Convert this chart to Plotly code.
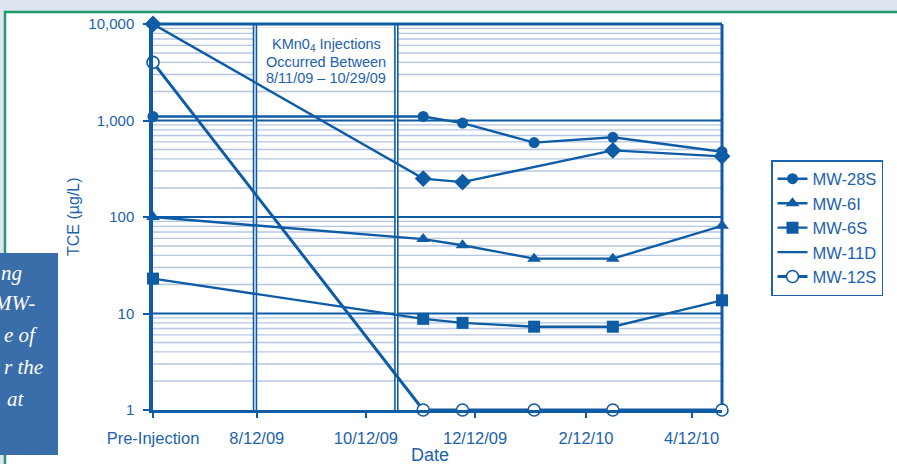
import plotly.graph_objects as go

# ---------------- data ----------------
pre_date = "2009-06-15"          # position used for the "Pre-Injection" sample
sample_dates = ["2009-11-13", "2009-12-05", "2010-01-14", "2010-02-27", "2010-04-29"]

mw28s = [1100, 1100, 940, 590, 670, 475]
mw6i = [100, 59, 51, 37, 37, 81]
mw6s = [23, 8.8, 8.0, 7.3, 7.3, 13.7]
mw11d_dates = [pre_date, "2009-11-13", "2009-12-05", "2010-02-27", "2010-04-29"]
mw11d = [10000, 250, 230, 490, 425]
mw12s = [4000, 1, 1, 1, 1, 1]

injection_start = "2009-08-11"
injection_end = "2009-10-29"

tick_dates = ["2009-06-15", "2009-08-12", "2009-10-12", "2009-12-12", "2010-02-12", "2010-04-12"]
tick_text = ["Pre-Injection", "8/12/09", "10/12/09", "12/12/09", "2/12/10", "4/12/10"]
y_tick_vals = [1, 10, 100, 1000, 10000]
y_tick_text = ["1", "10", "100", "1,000", "10,000"]

all_dates = [pre_date] + sample_dates

# ---------------- style ----------------
BLUE = "#0e5ba6"
TEXT = "#1c62ad"
GRID = "#b5c6e3"
FONT = "Liberation Sans, Arial, sans-serif"

W, H = 897, 464
L, R, T, B = 153, 722, 24, 410


def px_x(p):
    return (p - L) / (R - L)


def px_y(p):
    return (B - p) / (B - T)


fig = go.Figure()

line_w = 2.4
fig.add_trace(go.Scatter(x=all_dates, y=mw28s, name="MW-28S", mode="lines+markers",
                         line=dict(color=BLUE, width=line_w),
                         marker=dict(symbol="circle", size=11, color=BLUE),
                         cliponaxis=False))
fig.add_trace(go.Scatter(x=all_dates, y=mw6i, name="MW-6I", mode="lines+markers",
                         line=dict(color=BLUE, width=line_w),
                         marker=dict(symbol="triangle-up", size=12, color=BLUE),
                         cliponaxis=False))
fig.add_trace(go.Scatter(x=all_dates, y=mw6s, name="MW-6S", mode="lines+markers",
                         line=dict(color=BLUE, width=line_w),
                         marker=dict(symbol="square", size=12, color=BLUE),
                         cliponaxis=False))
fig.add_trace(go.Scatter(x=mw11d_dates, y=mw11d, name="MW-11D", mode="lines",
                         line=dict(color=BLUE, width=line_w), legendgroup="11d",
                         cliponaxis=False))
fig.add_trace(go.Scatter(x=mw11d_dates, y=mw11d, name="MW-11D", mode="markers",
                         marker=dict(symbol="diamond", size=13, color=BLUE),
                         legendgroup="11d", showlegend=False, cliponaxis=False))
fig.add_trace(go.Scatter(x=all_dates, y=mw12s, name="MW-12S", mode="lines+markers",
                         line=dict(color=BLUE, width=3),
                         marker=dict(symbol="circle", size=12, color="white",
                                     line=dict(color=BLUE, width=1.6)),
                         cliponaxis=False))

shapes = []
# page frame
shapes.append(dict(type="rect", xref="paper", yref="paper",
                   x0=px_x(0), x1=px_x(W), y0=px_y(H), y1=px_y(0),
                   fillcolor="#dfe5f0", line=dict(width=0), layer="below"))
shapes.append(dict(type="rect", xref="paper", yref="paper",
                   x0=px_x(5), x1=px_x(W + 5), y0=px_y(H + 5), y1=px_y(12),
                   fillcolor="white", line=dict(color="#1f9a6b", width=2.5), layer="below"))
# left blue box
shapes.append(dict(type="rect", xref="paper", yref="paper",
                   x0=px_x(-2), x1=px_x(58), y0=px_y(455), y1=px_y(253),
                   fillcolor="#3a6eab", line=dict(width=0), layer="below"))

# minor grid
for d in range(4):
    for k in range(2, 10):
        shapes.append(dict(type="line", xref="paper", yref="y", x0=0, x1=1,
                           y0=k * 10 ** d, y1=k * 10 ** d,
                           line=dict(color=GRID, width=1.4), layer="below"))
# major grid
for v in [10, 100, 1000]:
    shapes.append(dict(type="line", xref="paper", yref="y", x0=0, x1=1, y0=v, y1=v,
                       line=dict(color=BLUE, width=2.2), layer="below"))
# white label box
shapes.append(dict(type="rect", xref="x", yref="paper", x0=injection_start, x1=injection_end,
                   y0=px_y(88), y1=px_y(28), fillcolor="white", line=dict(width=0), layer="below"))
# injection double lines
for dte in [injection_start, injection_end]:
    shapes.append(dict(type="line", xref="x", yref="paper", x0=dte, x1=dte, y0=0, y1=1,
                       line=dict(color=BLUE, width=4.5), layer="below"))
    shapes.append(dict(type="line", xref="x", yref="paper", x0=dte, x1=dte, y0=0, y1=1,
                       line=dict(color="white", width=1.3), layer="below"))
# frame of plot: top and right
shapes.append(dict(type="line", xref="paper", yref="paper", x0=0, x1=1, y0=1, y1=1,
                   line=dict(color=BLUE, width=3), layer="below"))
shapes.append(dict(type="line", xref="paper", yref="paper", x0=1, x1=1, y0=0, y1=1,
                   line=dict(color=BLUE, width=3), layer="below"))

annotations = []
ann_lines = ["KMn0<sub>4</sub> Injections", "Occurred Between", "8/11/09 \u2013 10/29/09"]
for txt, yy in zip(ann_lines, [45, 62, 78]):
    annotations.append(dict(text=txt, xref="paper", yref="paper", x=px_x(326), y=px_y(yy),
                            showarrow=False, xanchor="center", yanchor="middle",
                            font=dict(family=FONT, size=14.5, color=TEXT)))
annotations.append(dict(text="TCE (\u00b5g/L)", xref="paper", yref="paper", x=px_x(73), y=px_y(217),
                        showarrow=False, textangle=-90, xanchor="center", yanchor="middle",
                        font=dict(family=FONT, size=16, color=TEXT)))
annotations.append(dict(text="Date", xref="paper", yref="paper", x=px_x(430), y=px_y(455),
                        showarrow=False, xanchor="center", yanchor="middle",
                        font=dict(family=FONT, size=18, color=TEXT)))
side_text = [("ng", 24, 273), ("MW-", 37, 303), ("e of", 40, 335), ("r the", 45, 367), ("at", 27, 399)]
for txt, xr, yy in side_text:
    annotations.append(dict(text="<i>" + txt + "</i>", xref="paper", yref="paper",
                            x=px_x(xr), y=px_y(yy), showarrow=False,
                            xanchor="right", yanchor="middle",
                            font=dict(family="Liberation Serif, Times New Roman, serif",
                                      size=21, color="white")))

fig.update_layout(
    width=W, height=H,
    margin=dict(l=L, r=W - R, t=T, b=H - B, pad=0),
    paper_bgcolor="white", plot_bgcolor="rgba(0,0,0,0)",
    shapes=shapes, annotations=annotations,
    showlegend=True,
    legend=dict(x=px_x(771), y=px_y(160), xanchor="left", yanchor="top",
                bgcolor="white", bordercolor=TEXT, borderwidth=1.5,
                font=dict(family=FONT, size=16.5, color=TEXT),
                tracegroupgap=0, itemwidth=30),
    xaxis=dict(type="date", range=[pre_date, sample_dates[-1]],
               tickvals=tick_dates, ticktext=tick_text,
               showgrid=False, zeroline=False,
               showline=True, linecolor=BLUE, linewidth=3,
               ticks="outside", ticklen=5, tickwidth=2, tickcolor=BLUE,
               ticklabelstandoff=6,
               tickfont=dict(family=FONT, size=16.5, color=TEXT)),
    yaxis=dict(type="log", range=[0, 4],
               tickvals=y_tick_vals, ticktext=y_tick_text,
               showgrid=False, zeroline=False,
               showline=True, linecolor=BLUE, linewidth=3.5,
               ticks="outside", ticklen=6, tickwidth=2, tickcolor=BLUE,
               ticklabelstandoff=6,
               tickfont=dict(family=FONT, size=15, color=TEXT)),
)

fig.write_html("out.html", config={"displayModeBar": False},
               post_script="document.body.style.margin='0';document.body.style.overflow='hidden';")
